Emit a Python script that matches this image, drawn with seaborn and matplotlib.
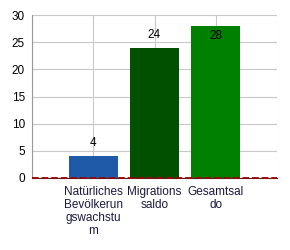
import matplotlib
matplotlib.use("Agg")
import matplotlib.pyplot as plt
import seaborn as sns
import pandas as pd

categories = ["Natürliches\nBevölkerun\ngswachstu\nm", "Migrations\nsaldo", "Gesamtsal\ndo"]
values = [4, 24, 28]
colors = ["#1f5aa8", "#005000", "#008000"]
yticks = [0, 5, 10, 15, 20, 25, 30]

sns.set_style("white")
plt.rcParams['font.family'] = ['Liberation Sans', 'DejaVu Sans']

fig = plt.figure(figsize=(2.9, 2.5), dpi=100)
ax = fig.add_axes([32/290, 1-178/250, (277-32)/290, (178-15)/250])

df = pd.DataFrame({"cat": categories, "val": values, "x": [1, 2, 3]})
ax.bar(df["x"], df["val"], width=0.8, color=colors, linewidth=0, zorder=2)

ax.set_xlim(0, 4)
ax.set_ylim(0, 30)
ax.set_yticks(yticks)
ax.set_xticks([0, 1, 2, 3, 4])
ax.set_xticklabels([""] + categories + [""], fontsize=8.5, color="#1a1a40", linespacing=1.1)
ax.tick_params(axis="y", labelsize=8.5, length=3, colors="#555555", labelcolor="black", pad=2)
ax.tick_params(axis="x", length=4, colors="#333333", labelcolor="#1a1a40", pad=2)
ax.grid(True, color="#c8c8c8", linewidth=0.8, zorder=0)
ax.set_axisbelow(True)
for s in ["top", "right"]:
    ax.spines[s].set_visible(False)
ax.spines["left"].set_color("#999999")
ax.spines["bottom"].set_color("#333333")
ax.axhline(0, color="#a00000", linestyle="--", linewidth=1.3, zorder=5, clip_on=False)

for x, v in zip(df["x"], df["val"]):
    if v + 3 > 30:
        ax.text(x, v - 0.7, str(v), ha="center", va="top", fontsize=8.5, color="black", zorder=4)
    else:
        ax.text(x, v + 1.3, str(v), ha="center", va="bottom", fontsize=8.5, color="black", zorder=4)

fig.savefig("out.png", dpi=100)
